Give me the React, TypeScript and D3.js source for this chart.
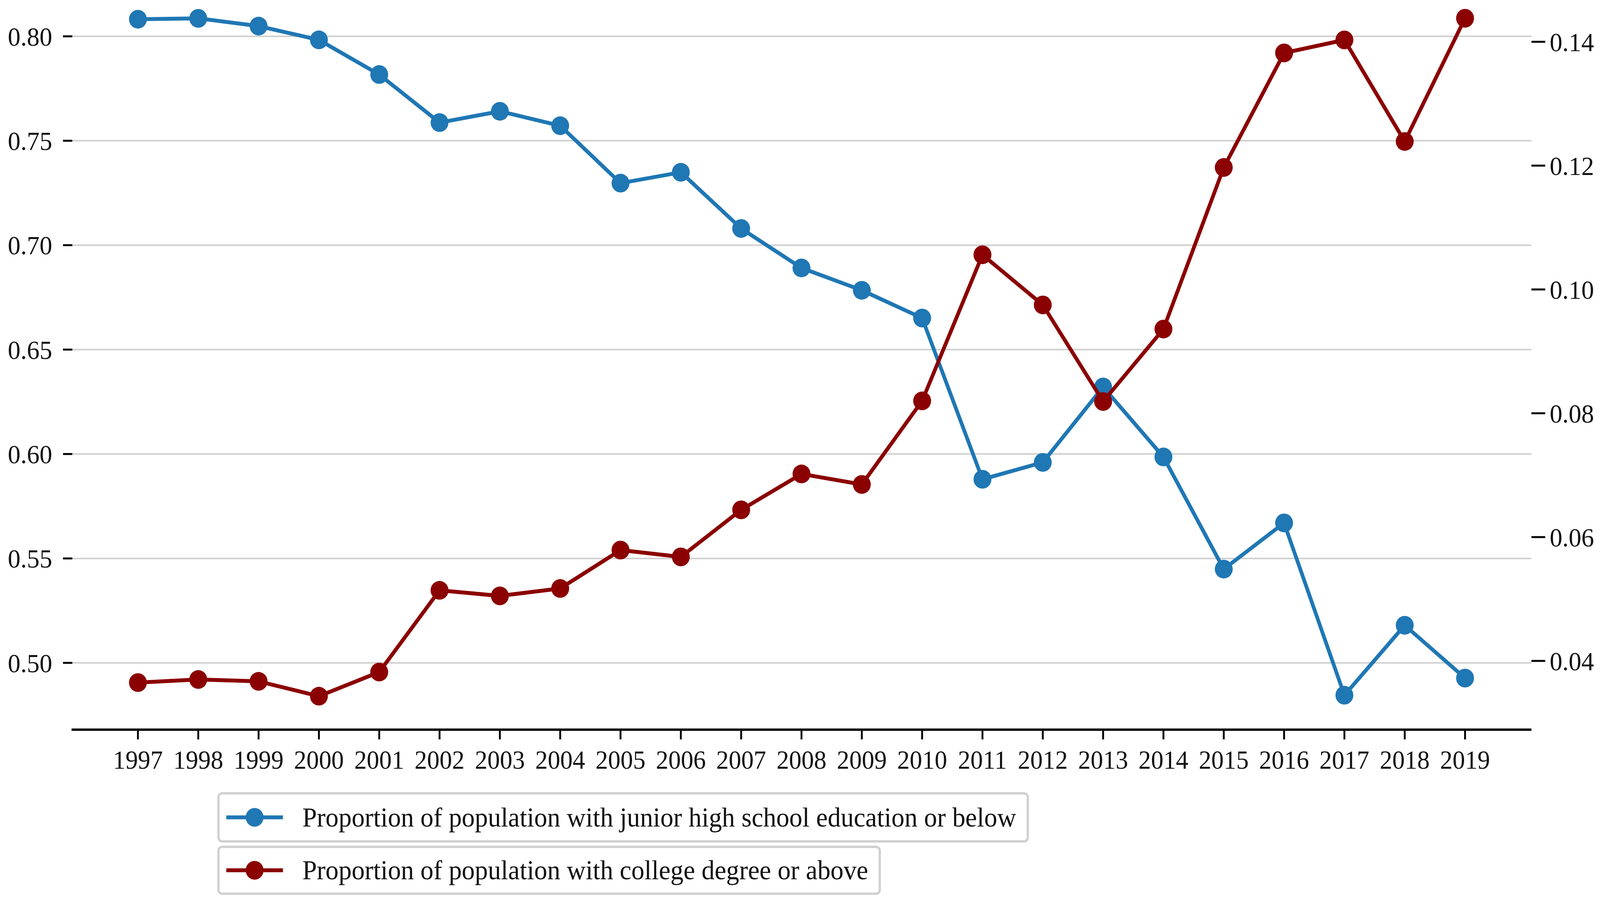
import React from "react";
import * as d3 from "d3";

const years = [1997,1998,1999,2000,2001,2002,2003,2004,2005,2006,2007,2008,2009,2010,2011,2012,2013,2014,2015,2016,2017,2018,2019];
const juniorOrBelow = [0.8082,0.8086,0.8049,0.7983,0.7817,0.7587,0.7641,0.7572,0.7297,0.7349,0.7080,0.6891,0.6784,0.6651,0.5879,0.5960,0.6321,0.5986,0.5449,0.5670,0.4845,0.5180,0.4927];
const collegeOrAbove = [0.0365,0.0370,0.0367,0.0343,0.0382,0.0514,0.0505,0.0517,0.0579,0.0568,0.0644,0.0702,0.0685,0.0820,0.1056,0.0975,0.0819,0.0936,0.1197,0.1382,0.1403,0.1239,0.1438];
const leftTicks = [0.50,0.55,0.60,0.65,0.70,0.75,0.80];
const rightTicks = [0.04,0.06,0.08,0.10,0.12,0.14];
const seriesNames = [
  "Proportion of population with junior high school education or below",
  "Proportion of population with college degree or above",
];
const colors = ["#1f77b4", "#8b0000"];

const W = 4292, H = 2322;
const plotL = 192, plotR = 4108, plotB = 1868;
const font = "'Liberation Serif', 'Times New Roman', Times, serif";

export default function App() {
  const x = d3.scaleLinear().domain([1997 - 1.1, 2019 + 1.1]).range([plotL, plotR]);
  const yL = d3.scaleLinear().domain([0.50, 0.80]).range([1697, 93]);
  const yR = d3.scaleLinear().domain([0.04, 0.14]).range([1692, 107]);

  const lineL = d3.line<number>().x((_, i) => x(years[i])).y((d) => yL(d));
  const lineR = d3.line<number>().x((_, i) => x(years[i])).y((d) => yR(d));

  const legendRows = [
    { y0: 2031, y1: 2154, x1: 2757, name: seriesNames[0], color: colors[0] },
    { y0: 2168, y1: 2288, x1: 2360, name: seriesNames[1], color: colors[1] },
  ];

  return (
    <svg
      viewBox={`0 0 ${W} ${H}`}
      preserveAspectRatio="none"
      style={{ position: "fixed", left: 0, top: 0, width: "100vw", height: "100vh", background: "#fff", display: "block" }}
      fontFamily={font}
    >
      <rect x={0} y={0} width={W} height={H} fill="#fff" />
      {/* grid */}
      {leftTicks.map((t) => (
        <line key={"g" + t} x1={plotL} x2={plotR} y1={yL(t)} y2={yL(t)} stroke="#d0d0d0" strokeWidth={4} />
      ))}
      {/* left ticks */}
      {leftTicks.map((t) => (
        <g key={"l" + t}>
          <line x1={169} x2={194} y1={yL(t)} y2={yL(t)} stroke="#000" strokeWidth={5} />
          <text x={140} y={yL(t)} dy="0.35em" textAnchor="end" fontSize={68} fill="#111">{d3.format(".2f")(t)}</text>
        </g>
      ))}
      {/* right ticks */}
      {rightTicks.map((t) => (
        <g key={"r" + t}>
          <line x1={4108} x2={4145} y1={yR(t)} y2={yR(t)} stroke="#000" strokeWidth={5} />
          <text x={4157} y={yR(t)} dy="0.35em" textAnchor="start" fontSize={68} fill="#111">{d3.format(".2f")(t)}</text>
        </g>
      ))}
      {/* bottom axis */}
      <line x1={plotL} x2={plotR} y1={plotB} y2={plotB} stroke="#000" strokeWidth={6} />
      {years.map((yr) => (
        <g key={"x" + yr}>
          <line x1={x(yr)} x2={x(yr)} y1={plotB} y2={plotB + 25} stroke="#000" strokeWidth={5} />
          <text x={x(yr)} y={1968} textAnchor="middle" fontSize={67} fill="#111">{yr}</text>
        </g>
      ))}
      {/* series */}
      <path d={lineL(juniorOrBelow) || ""} fill="none" stroke={colors[0]} strokeWidth={10} strokeLinejoin="round" />
      {juniorOrBelow.map((v, i) => (
        <circle key={"b" + i} cx={x(years[i])} cy={yL(v)} r={24} fill={colors[0]} />
      ))}
      <path d={lineR(collegeOrAbove) || ""} fill="none" stroke={colors[1]} strokeWidth={10} strokeLinejoin="round" />
      {collegeOrAbove.map((v, i) => (
        <circle key={"r" + i} cx={x(years[i])} cy={yR(v)} r={24} fill={colors[1]} />
      ))}
      {/* legend */}
      {legendRows.map((row, i) => (
        <g key={"lg" + i}>
          <rect x={586} y={row.y0} width={row.x1 - 586} height={row.y1 - row.y0} rx={10} ry={10} fill="#fff" stroke="#d0d0d0" strokeWidth={6} />
          <line x1={607} x2={759} y1={(row.y0 + row.y1) / 2} y2={(row.y0 + row.y1) / 2} stroke={row.color} strokeWidth={10} />
          <circle cx={683} cy={(row.y0 + row.y1) / 2} r={24} fill={row.color} />
          <text x={811} y={(row.y0 + row.y1) / 2} dy="0.33em" fontSize={70} fill="#111">{row.name}</text>
        </g>
      ))}
    </svg>
  );
}
